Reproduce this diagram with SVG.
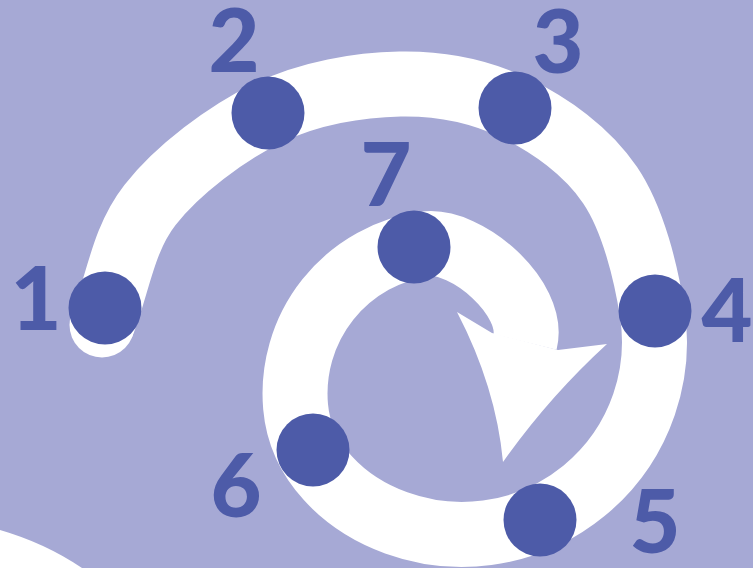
<svg xmlns="http://www.w3.org/2000/svg" width="753" height="568" viewBox="0 0 753 568">
<style>
.bg{fill:#a6a9d5}
.band{fill:none;stroke:#ffffff;stroke-width:65;stroke-linecap:butt;stroke-linejoin:round}
.white{fill:#ffffff}
.node{fill:#4d5ba8}
.lbl{fill:#4d5ba8;font-family:Lato,"Liberation Sans",sans-serif;font-weight:900;font-size:88px;text-anchor:middle}
</style>
<rect class="bg" x="0" y="0" width="753" height="568"/>
<path class="white" d="M0,530 Q45,543 82,568 L0,568 Z"/>
<g id="connectors">
<circle class="white" cx="102" cy="325" r="32.5"/>
<path class="band" d="M102,325 C118,285 122.33,240.33 150,205 C177.67,169.67 226.33,133.17 268,113 C309.67,92.83 358.83,84.83 400,84 C441.17,83.17 480,91.17 515,108 C550,124.83 586.83,150.83 610,185 C633.17,219.17 646.3,273.6 652.3,313.2 A192.5 192.5 0 0 1 396.2,522.9 C343.9,503.9 300.4,462.1 295.6,406.7 A151 151 0 0 1 425,244 C466.6,238.2 535.8,298.4 525,342"/>
<path class="white" d="M457,312 L492,333 L558,350 L607,344 Q549,397 503,462 Q496,387 457,312 Z"/>
</g>
<g id="n1"><circle class="node" cx="105" cy="308" r="36.5"/><text class="lbl" x="36" y="330">1</text></g>
<g id="n2"><circle class="node" cx="268" cy="113" r="36.5"/><text class="lbl" x="234" y="72">2</text></g>
<g id="n3"><circle class="node" cx="515" cy="108" r="36.5"/><text class="lbl" x="558" y="73">3</text></g>
<g id="n4"><circle class="node" cx="655" cy="311" r="36.5"/><text class="lbl" x="727" y="342">4</text></g>
<g id="n5"><circle class="node" cx="540" cy="520" r="36.5"/><text class="lbl" x="655" y="553">5</text></g>
<g id="n6"><circle class="node" cx="313" cy="450" r="36.5"/><text class="lbl" x="236" y="517">6</text></g>
<g id="n7"><circle class="node" cx="414" cy="247" r="36.5"/><text class="lbl" x="386" y="206">7</text></g>
</svg>
